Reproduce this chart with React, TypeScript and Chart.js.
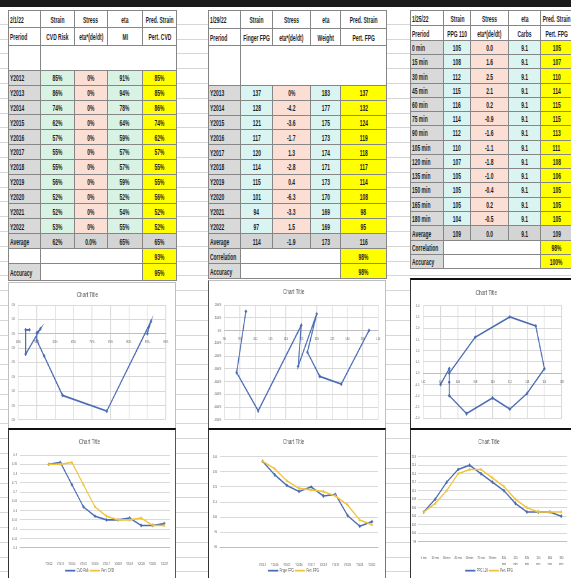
import React, { useEffect, useRef } from 'react';
import { Chart, registerables } from 'chart.js';

Chart.register(...registerables);

// ---------------- Sheet 2/1/22 (CVD) ----------------
const cvdPeriods = ['Y2012', 'Y2013', 'Y2014', 'Y2015', 'Y2016', 'Y2017', 'Y2018', 'Y2019', 'Y2020', 'Y2021', 'Y2022'];
const cvdRisk = [0.85, 0.86, 0.74, 0.62, 0.57, 0.55, 0.55, 0.56, 0.52, 0.52, 0.53];
const cvdStress = [0, 0.000086, -0.00054, -0.00043, -0.000155, -0.000045, 0.000005, 0.000034, -0.000142, 0.000027, 0.000027];
const cvdMI = [0.91, 0.94, 0.78, 0.64, 0.59, 0.57, 0.57, 0.59, 0.52, 0.54, 0.55];
const cvdPert = [0.85, 0.85, 0.86, 0.74, 0.62, 0.57, 0.55, 0.55, 0.56, 0.52, 0.52];
const cvdAverage = ['62%', '0.0%', '65%', '65%'];
const cvdMid = '93%';
const cvdAccuracy = '95%';
const cvdHead1 = ['2/1/22', 'Strain', 'Stress', 'eta', 'Pred. Strain'];
const cvdHead2 = ['Preriod', 'CVD Risk', 'eta*(de/dt)', 'MI', 'Pert. CVD'];
const cvdScatterX = { min: 0.5, max: 0.9, step: 0.05 };
const cvdScatterY = { min: -0.0006, max: 0.0002, step: 0.0001 };
const cvdLineY = { min: 0.4, max: 0.9, step: 0.05 };

// ---------------- Sheet 1/29/22 (FPG) ----------------
const fpgPeriods = ['Y2013', 'Y2014', 'Y2015', 'Y2016', 'Y2017', 'Y2018', 'Y2019', 'Y2020', 'Y2021', 'Y2022'];
const fingerFPG = [137, 128, 121, 117, 120, 114, 115, 101, 94, 97];
const fpgStress = [0, -4.2, -3.6, -1.7, 1.3, -2.8, 0.4, -6.3, -3.3, 1.5];
const fpgWeight = [183, 177, 175, 173, 174, 171, 173, 170, 169, 169];
const pertFPG = [137, 132, 124, 119, 118, 117, 114, 108, 98, 95];
const fpgAverage = ['114', '-1.9', '173', '116'];
const fpgCorrelation = '98%';
const fpgAccuracy = '98%';
const fpgHead1 = ['1/29/22', 'Strain', 'Stress', 'eta', 'Pred. Strain'];
const fpgHead2 = ['Preriod', 'Finger FPG', 'eta*(de/dt)', 'Weight', 'Pert. FPG'];
const fpgScatterX = { min: 90, max: 140, step: 5 };
const fpgScatterY = { min: -7, max: 2, step: 1 };
const fpgLineY = { min: 80, max: 140, step: 10 };

// ---------------- Sheet 1/25/22 (PPG) ----------------
const ppgPeriods = ['0 min', '15 min', '30 min', '45 min', '60 min', '75 min', '90 min', '105 min', '120 min', '135 min', '150 min', '165 min', '180 min'];
const ppg110 = [105, 108, 112, 115, 116, 114, 112, 110, 107, 105, 105, 105, 104];
const ppgStress = [0.0, 1.6, 2.5, 2.1, 0.2, -0.9, -1.6, -1.1, -1.8, -1.0, -0.4, 0.2, -0.5];
const ppgCarbs = [9.1, 9.1, 9.1, 9.1, 9.1, 9.1, 9.1, 9.1, 9.1, 9.1, 9.1, 9.1, 9.1];
const pertPPG = [105, 107, 110, 114, 115, 115, 113, 111, 108, 106, 105, 105, 105];
const ppgAverage = ['109', '0.0', '9.1', '109'];
const ppgCorrelation = '98%';
const ppgAccuracy = '100%';
const ppgHead1 = ['1/25/22', 'Strain', 'Stress', 'eta', 'Pred. Strain'];
const ppgHead2 = ['Preriod', 'PPG 110', 'eta*(de/dt)', 'Carbs', 'Pert. FPG'];
const ppgScatterX = { min: 102, max: 118, step: 2 };
const ppgScatterY = { min: -2, max: 3, step: 0.5 };
const ppgLineY = { min: 98, max: 118, step: 2 };

// ---------------- styling ----------------
const SX = 0.62; // the reference screenshot is squeezed horizontally
const FONT = "'Liberation Sans', Arial, sans-serif";
const BLUE = '#4a6cb3';
const GOLD = '#efc43a';
const TXT = '#595959';
const GRID = '#d9d9d9';
const AXISC = '#bfbfbf';

const LABEL_BG = '#d9d9d9';
const MINT = '#d8f2e4';
const CYAN = '#daf4f1';
const PINK = '#fbdfd5';
const YEL = '#ffff00';
const AVG_BG = '#d4d4d4';
const WHITE = '#ffffff';

const pct0 = (v: number) => `${Math.round(v * 100) || 0}%`;
const f1 = (v: number) => (Math.abs(v) < 0.05 ? 0 : v).toFixed(1);
const int0 = (v: number) => String(Math.round(v));

type Range = { min: number; max: number; step: number };
type Frame = {
  w: number; h: number; plotLeft: number; plotRight: number; plotTop: number; plotBottom: number;
  titleCenter: number; xPad: number; yGap: number; legendCenter?: number; xLine?: number;
};

function titleOpts(f: Frame) {
  return {
    display: true, text: 'Chart Title', color: TXT,
    font: { family: FONT, size: 7.5, weight: 'normal' as const },
    padding: { top: f.titleCenter - 4.5, bottom: f.plotTop - f.titleCenter - 4.5 },
  };
}

function scatterConfig(f: Frame, xs: number[], ys: number[], xr: Range, yr: Range,
  xFmt: (v: number) => string, yFmt: (v: number) => string): any {
  const tick = { family: FONT, size: 4 };
  return {
    type: 'scatter',
    data: {
      datasets: [{
        data: xs.map((x, i) => ({ x, y: ys[i] })), showLine: true,
        borderColor: BLUE, backgroundColor: BLUE, borderWidth: 1.7,
        pointRadius: 1.8, pointStyle: 'rectRot', pointBorderWidth: 0.6,
      }],
    },
    options: {
      animation: false, responsive: false, events: [],
      layout: { padding: { left: 0, top: 0, right: (f.w - f.plotRight) / SX, bottom: f.h - f.plotBottom } },
      plugins: { legend: { display: false }, tooltip: { enabled: false }, title: titleOpts(f) },
      scales: {
        x: {
          type: 'linear', position: { y: 0 }, min: xr.min, max: xr.max,
          ticks: { stepSize: xr.step, callback: (v: number) => xFmt(v), font: tick, color: TXT, padding: f.xPad, maxRotation: 0, autoSkip: false },
          grid: { color: GRID, lineWidth: 1.3, drawTicks: false },
          border: { color: AXISC, width: 1 },
        },
        y: {
          type: 'linear', min: yr.min, max: yr.max,
          ticks: { stepSize: yr.step, callback: (v: number) => yFmt(v), font: tick, color: TXT, padding: f.yGap / SX, autoSkip: false },
          grid: { color: GRID, lineWidth: 1, drawTicks: false },
          border: { display: false },
          afterFit: (s: any) => { s.width = f.plotLeft / SX; },
        },
      },
    },
  };
}

type Series = { label: string; data: number[]; color: string; style: string };

function lineConfig(f: Frame, labels: string[], lead: number, series: Series[], yr: Range,
  yFmt: (v: number) => string, lblFmt: (s: string) => string | string[]): any {
  const legendTop = (f.legendCenter as number) - 4.25;
  const legendH = 16.5;
  return {
    type: 'line',
    data: {
      datasets: series.map((s, k) => ({
        label: s.label, data: s.data.map((y, i) => ({ x: i, y })),
        borderColor: s.color, backgroundColor: s.color, borderWidth: 1.6,
        pointRadius: 1.7, pointStyle: s.style, pointBorderWidth: 0.6, order: series.length - k,
      })),
    },
    options: {
      animation: false, responsive: false, events: [],
      layout: { padding: { left: 0, top: 0, right: (f.w - f.plotRight) / SX, bottom: f.h - legendTop - legendH } },
      plugins: {
        tooltip: { enabled: false },
        title: titleOpts(f),
        legend: {
          position: 'bottom',
          labels: {
            font: { family: FONT, size: 4.5 }, color: TXT, boxWidth: 16, boxHeight: 1.2, padding: 2,
            sort: (a: any, b: any) => a.datasetIndex - b.datasetIndex,
            generateLabels: (chart: any) =>
              (Chart.defaults.plugins.legend.labels as any).generateLabels(chart).map((l: any) => ({ ...l, lineWidth: 0.5 })),
          },
        },
      },
      scales: {
        x: {
          type: 'linear', min: -lead - 0.5, max: labels.length - 0.5,
          afterBuildTicks: (s: any) => { s.ticks = labels.map((_, i) => ({ value: i })); },
          afterFit: (s: any) => { s.height = legendTop - f.plotBottom; },
          ticks: {
            callback: (v: number) => lblFmt(labels[Math.round(v)] ?? ''),
            font: { family: FONT, size: 4, lineHeight: f.xLine ?? 1.2 }, color: TXT, padding: f.xPad, maxRotation: 0, autoSkip: false,
          },
          grid: { display: false },
          border: { color: AXISC, width: 1 },
        },
        y: {
          type: 'linear', min: yr.min, max: yr.max,
          ticks: { stepSize: yr.step, callback: (v: number) => yFmt(v), font: { family: FONT, size: 4 }, color: TXT, padding: f.yGap / SX, autoSkip: false },
          grid: { color: GRID, lineWidth: 1, drawTicks: false },
          border: { display: false },
          afterFit: (s: any) => { s.width = f.plotLeft / SX; },
        },
      },
    },
  };
}

function ChartCanvas({ left, top, f, make }: { left: number; top: number; f: Frame; make: () => any }) {
  const ref = useRef<HTMLCanvasElement | null>(null);
  useEffect(() => {
    const chart = new Chart(ref.current as HTMLCanvasElement, make());
    return () => chart.destroy();
  }, []);
  return (
    <canvas ref={ref} width={Math.round(f.w / SX)} height={f.h}
      style={{ position: 'absolute', left, top, width: f.w, height: f.h }} />
  );
}

// ---------------- spreadsheet tables ----------------
type Cell = { t?: string; span?: number; bg?: string; left?: boolean };
type Row = { y0: number; y1: number; cells: Cell[] };

function Sheet({ xs, rows }: { xs: number[]; rows: Row[] }) {
  const out: any[] = [];
  rows.forEach((r, ri) => {
    let c = 0;
    r.cells.forEach((cell, ci) => {
      const span = cell.span || 1;
      const x0 = xs[c];
      const x1 = xs[c + span];
      c += span;
      out.push(
        <div key={ri + '-' + ci} style={{
          position: 'absolute', left: x0, top: r.y0, width: x1 - x0 + 1, height: r.y1 - r.y0 + 1,
          boxSizing: 'border-box', border: '1px solid #868686', background: cell.bg || WHITE,
          display: 'flex', alignItems: 'center', justifyContent: cell.left ? 'flex-start' : 'center',
          overflow: 'hidden', whiteSpace: 'nowrap', fontFamily: FONT, fontSize: 9.5, fontWeight: 'bold', color: '#1e1e1e',
          paddingLeft: cell.left ? 1 : 0,
        }}>
          <span style={{ display: 'inline-block', transform: 'scaleX(0.52)', transformOrigin: cell.left ? 'left center' : 'center' }}>{cell.t || ''}</span>
        </div>
      );
    });
  });
  return <>{out}</>;
}

function buildRows(o: {
  head1: string[]; head2: string[]; headY: number[]; blank?: number[];
  dataTop: number; dataBottom: number; periods: string[]; cols: string[][]; colBg: string[];
  sumY: number[]; average: string[]; midLabel: string; midVal: string; accVal: string;
}): Row[] {
  const rows: Row[] = [];
  rows.push({ y0: o.headY[0], y1: o.headY[1], cells: o.head1.map((t, i) => ({ t, left: i === 0 })) });
  rows.push({ y0: o.headY[1], y1: o.headY[2], cells: o.head2.map((t, i) => ({ t, left: i === 0 })) });
  if (o.blank) rows.push({ y0: o.blank[0], y1: o.blank[1], cells: [{}, { span: 4 }] });
  const n = o.periods.length;
  const rh = (o.dataBottom - o.dataTop) / n;
  o.periods.forEach((p, i) => {
    rows.push({
      y0: o.dataTop + i * rh, y1: o.dataTop + (i + 1) * rh,
      cells: [{ t: p, left: true, bg: LABEL_BG }, ...o.cols.map((col, k) => ({ t: col[i], bg: o.colBg[k] }))],
    });
  });
  rows.push({ y0: o.sumY[0], y1: o.sumY[1], cells: [{ t: 'Average', left: true, bg: AVG_BG }, ...o.average.map((t) => ({ t, bg: AVG_BG }))] });
  rows.push({ y0: o.sumY[1], y1: o.sumY[2], cells: [{ t: o.midLabel, left: true, bg: o.midLabel ? LABEL_BG : WHITE }, { span: 3 }, { t: o.midVal, bg: YEL }] });
  rows.push({ y0: o.sumY[2], y1: o.sumY[3], cells: [{ t: 'Accuracy', left: true, bg: LABEL_BG }, { span: 3 }, { t: o.accVal, bg: YEL }] });
  return rows;
}

const cvdRows = buildRows({
  head1: cvdHead1, head2: cvdHead2, headY: [10, 27, 45], blank: [45, 70], dataTop: 70, dataBottom: 233,
  periods: cvdPeriods, cols: [cvdRisk.map(pct0), cvdStress.map(pct0), cvdMI.map(pct0), cvdPert.map(pct0)],
  colBg: [MINT, PINK, MINT, YEL], sumY: [233, 248, 263, 280], average: cvdAverage, midLabel: '', midVal: cvdMid, accVal: cvdAccuracy,
});
const fpgRows = buildRows({
  head1: fpgHead1, head2: fpgHead2, headY: [10, 28, 45], blank: [45, 85], dataTop: 85, dataBottom: 233,
  periods: fpgPeriods, cols: [fingerFPG.map(int0), fpgStress.map((v, i) => (i === 0 ? pct0(v) : f1(v))), fpgWeight.map(int0), pertFPG.map(int0)],
  colBg: [CYAN, PINK, CYAN, YEL], sumY: [233, 248, 263, 278], average: fpgAverage, midLabel: 'Correlation', midVal: fpgCorrelation, accVal: fpgAccuracy,
});
const ppgRows = buildRows({
  head1: ppgHead1, head2: ppgHead2, headY: [10, 25, 40], dataTop: 40, dataBottom: 225,
  periods: ppgPeriods, cols: [ppg110.map(int0), ppgStress.map(f1), ppgCarbs.map(f1), pertPPG.map(int0)],
  colBg: [CYAN, PINK, CYAN, YEL], sumY: [225, 240, 254, 268], average: ppgAverage, midLabel: 'Correlation', midVal: ppgCorrelation, accVal: ppgAccuracy,
});

// chart frames (page px, relative to each canvas)
const fTL: Frame = { w: 165, h: 144, plotLeft: 9.3, plotRight: 156.7, plotTop: 22, plotBottom: 138.7, titleCenter: 12, xPad: 6, yGap: 3 };
const fTM: Frame = { w: 175, h: 146, plotLeft: 15.3, plotRight: 169.3, plotTop: 24, plotBottom: 139.7, titleCenter: 11, xPad: 6, yGap: 3 };
const fTR: Frame = { w: 160, h: 147, plotLeft: 12.3, plotRight: 150.7, plotTop: 25.7, plotBottom: 141.7, titleCenter: 13, xPad: 6, yGap: 4 };
const fBL: Frame = { w: 165, h: 160, plotLeft: 11, plotRight: 161, plotTop: 25, plotBottom: 117.7, titleCenter: 12, xPad: 6, yGap: 3, legendCenter: 140.7 };
const fBM: Frame = { w: 175, h: 160, plotLeft: 11, plotRight: 169, plotTop: 26.7, plotBottom: 117.3, titleCenter: 12, xPad: 7, yGap: 3, legendCenter: 140.7 };
const fBR: Frame = { w: 160, h: 160, plotLeft: 7, plotRight: 156, plotTop: 26.7, plotBottom: 111.7, titleCenter: 12, xPad: 5.5, yGap: 2, legendCenter: 140.7, xLine: 1.4 };

const box = (left: number, top: number, width: number, height: number, extra: any) => (
  <div style={{ position: 'absolute', left, top, width, height, boxSizing: 'border-box', background: WHITE, ...extra }} />
);

export default function App() {
  return (
    <div style={{
      position: 'fixed', left: 0, top: 0, width: 571, height: 578, overflow: 'hidden', background: WHITE,
      backgroundImage: 'repeating-linear-gradient(to bottom, #ffffff 0px, #ffffff 13.8px, #d6d6d6 13.8px, #d6d6d6 14.8px)',
      backgroundPosition: '0 10px',
    }}>
      <div style={{ position: 'absolute', left: 0, top: 0, width: 571, height: 7, background: '#1b1b1b' }} />
      <div style={{ position: 'absolute', left: 0, top: 7, width: 571, height: 3, background: WHITE }} />

      <Sheet xs={[8, 40, 74, 107, 142, 176]} rows={cvdRows} />
      <Sheet xs={[208, 240, 272, 310, 340, 386]} rows={fpgRows} />
      <Sheet xs={[410, 443, 470, 508, 540, 572]} rows={ppgRows} />

      {box(8, 282, 168, 147, { border: '1px solid #bfbfbf' })}
      {box(8, 428, 168, 160, { borderTop: '2px solid #111', borderLeft: '1px solid #333', borderRight: '1px solid #555' })}
      {box(208, 280, 178, 149, { border: '1px solid #bfbfbf', borderLeft: '1px solid #555' })}
      {box(208, 428, 178, 160, { borderTop: '2px solid #111', borderLeft: '1px solid #333', borderRight: '1px solid #777' })}
      {box(410, 278, 162, 151, { borderTop: '2px solid #111', borderLeft: '1px solid #333' })}
      {box(410, 428, 162, 160, { borderTop: '2px solid #111', borderLeft: '1px solid #333' })}

      <ChartCanvas left={9} top={283} f={fTL}
        make={() => scatterConfig(fTL, cvdRisk, cvdStress, cvdScatterX, cvdScatterY, pct0, pct0)} />
      <ChartCanvas left={209} top={281} f={fTM}
        make={() => scatterConfig(fTM, fingerFPG, fpgStress, fpgScatterX, fpgScatterY, int0, (v) => `${Math.round(v * 100)}%`)} />
      <ChartCanvas left={411} top={280} f={fTR}
        make={() => scatterConfig(fTR, ppg110, ppgStress, ppgScatterX, ppgScatterY, int0, (v) => v.toFixed(1))} />

      <ChartCanvas left={9} top={430} f={fBL}
        make={() => lineConfig(fBL, cvdPeriods, 2, [
          { label: 'CVD Risk', data: cvdRisk, color: BLUE, style: 'rectRot' },
          { label: 'Pert. CVD', data: cvdPert, color: GOLD, style: 'triangle' },
        ], cvdLineY, (v) => String(Number(v.toFixed(2))), (s) => s)} />
      <ChartCanvas left={209} top={430} f={fBM}
        make={() => lineConfig(fBM, fpgPeriods, 3, [
          { label: 'Finger FPG', data: fingerFPG, color: BLUE, style: 'rectRot' },
          { label: 'Pert. FPG', data: pertFPG, color: GOLD, style: 'triangle' },
        ], fpgLineY, int0, (s) => s)} />
      <ChartCanvas left={411} top={430} f={fBR}
        make={() => lineConfig(fBR, ppgPeriods, 0, [
          { label: 'PPG 110', data: ppg110, color: BLUE, style: 'rectRot' },
          { label: 'Pert. FPG', data: pertPPG, color: GOLD, style: 'triangle' },
        ], ppgLineY, int0, (s) => (s.length > 6 ? s.split(' ') : s))} />
    </div>
  );
}
